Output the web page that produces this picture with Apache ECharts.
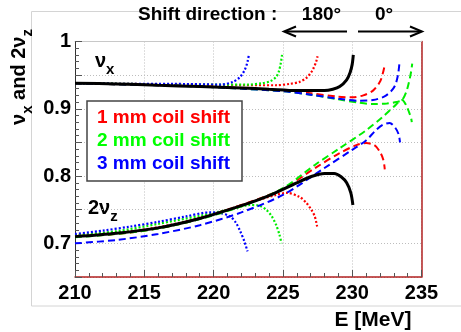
<!DOCTYPE html>
<html>
<head>
<meta charset="utf-8">
<script src="https://cdn.jsdelivr.net/npm/echarts@6/dist/echarts.min.js"></script>
<style>
  html, body { margin: 0; padding: 0; background: #fff; }
  #chart { width: 461px; height: 332px; }
</style>
</head>
<body>
<div id="chart"></div>
<script>
// Betatron tunes vs. energy for coil shifts of 1, 2, 3 mm (180° = dotted, 0° = dashed)
const energyTicks = [210, 215, 220, 225, 230, 235];
const tuneTicks = [0.7, 0.8, 0.9, 1];

// no coil shift
const noShiftNux = [[210,0.938],[213,0.937],[216,0.935],[219,0.933],[222,0.931],[224,0.929],[226,0.927],[228,0.927],[228.6,0.929],[229.1,0.933],[229.6,0.943],[229.85,0.954],[230.0,0.966],[230.08,0.98]];
const noShiftNuz = [[210,0.710],[213,0.715],[216,0.723],[219,0.737],[222,0.756],[224,0.771],[226,0.790],[227,0.799],[228,0.804],[228.7,0.804],[229.2,0.799],[229.6,0.790],[229.9,0.775],[230.05,0.757]];

// 1 mm shift
const shift1Dir180Nux = [[210,0.938],[214,0.937],[218,0.936],[222,0.935],[224.5,0.935],[225.5,0.937],[226.2,0.940],[226.7,0.946],[227.0,0.953],[227.2,0.960],[227.4,0.970],[227.5,0.978]];
const shift1Dir180Nuz = [[210,0.712],[214,0.718],[217,0.728],[220,0.744],[223,0.763],[224.5,0.772],[225.3,0.775],[226.2,0.769],[226.7,0.760],[227.05,0.750],[227.3,0.740],[227.47,0.725]];
const shift1Dir0Nux = [[210,0.938],[214,0.936],[218,0.934],[222,0.931],[225,0.927],[227,0.923],[229,0.918],[230,0.917],[230.8,0.920],[231.5,0.927],[232.0,0.940],[232.2,0.952],[232.35,0.965]];
const shift1Dir0Nuz = [[210,0.710],[214,0.716],[218,0.731],[222,0.757],[225,0.781],[227.4,0.813],[229,0.833],[230.3,0.846],[231.0,0.849],[231.6,0.846],[232.0,0.836],[232.25,0.824],[232.35,0.810]];

// 2 mm shift
const shift2Dir180Nux = [[210,0.938],[214,0.937],[218,0.936],[222.5,0.936],[223.5,0.938],[224.1,0.941],[224.5,0.947],[224.7,0.955],[224.85,0.968],[224.95,0.982]];
const shift2Dir180Nuz = [[210,0.712],[213,0.718],[216,0.729],[219,0.741],[221.5,0.752],[222.6,0.757],[223.3,0.756],[223.8,0.750],[224.2,0.740],[224.5,0.728],[224.75,0.713],[224.9,0.700]];
const shift2Dir0Nux = [[210,0.938],[214,0.936],[218,0.934],[222,0.930],[225,0.926],[227,0.921],[229,0.914],[230.5,0.909],[231.5,0.907],[232.5,0.908],[233.2,0.910],[233.6,0.913],[233.9,0.925],[234.1,0.940],[234.25,0.955],[234.33,0.967]];
const shift2Dir0Nuz = [[210,0.709],[213,0.714],[216,0.722],[219,0.736],[222,0.755],[225,0.782],[227.4,0.818],[229,0.840],[231,0.868],[232.2,0.888],[233.0,0.903],[233.6,0.913],[233.9,0.905],[234.1,0.895],[234.25,0.886],[234.3,0.880]];

// 3 mm shift
const shift3Dir180Nux = [[210,0.938],[214,0.937],[217,0.937],[220.5,0.936],[221.4,0.940],[221.9,0.947],[222.25,0.958],[222.45,0.970],[222.55,0.981]];
const shift3Dir180Nuz = [[210,0.714],[212,0.719],[214,0.725],[216,0.732],[218,0.740],[219.7,0.746],[220.5,0.745],[221.2,0.740],[221.6,0.731],[221.9,0.719],[222.2,0.704],[222.45,0.688]];
const shift3Dir0Nux = [[210,0.938],[214,0.936],[218,0.934],[222,0.930],[225,0.926],[227,0.921],[229,0.915],[230.5,0.912],[231.5,0.913],[232.3,0.918],[232.8,0.926],[233.1,0.935],[233.3,0.950],[233.4,0.966]];
const shift3Dir0Nuz = [[210,0.700],[213,0.705],[216,0.714],[219,0.727],[222,0.746],[225,0.772],[228,0.812],[230,0.839],[231,0.853],[231.7,0.868],[232.2,0.876],[232.7,0.879],[233.1,0.872],[233.35,0.862],[233.45,0.850]];

const legendLabels = ['1 mm coil shift', '2 mm coil shift', '3 mm coil shift'];
const shiftColors = ['#ff0000', '#00ee00', '#0000ff'];

const FONT = 'Liberation Sans';
const DOTTED = [2, 2];
const DASHED = [7, 4];

function curve(data, color, type, width) {
  return {
    type: 'line',
    data: data,
    showSymbol: false,
    smooth: 0.3,
    silent: true,
    lineStyle: { color: color, width: width, type: type }
  };
}

const series = [
  curve(shift1Dir180Nux, shiftColors[0], DOTTED, 2.2),
  curve(shift1Dir180Nuz, shiftColors[0], DOTTED, 2.2),
  curve(shift2Dir180Nux, shiftColors[1], DOTTED, 2.2),
  curve(shift2Dir180Nuz, shiftColors[1], DOTTED, 2.2),
  curve(shift3Dir180Nux, shiftColors[2], DOTTED, 2.2),
  curve(shift3Dir180Nuz, shiftColors[2], DOTTED, 2.2),
  curve(shift1Dir0Nux, shiftColors[0], DASHED, 2),
  curve(shift1Dir0Nuz, shiftColors[0], DASHED, 2),
  curve(shift2Dir0Nux, shiftColors[1], DASHED, 2),
  curve(shift2Dir0Nuz, shiftColors[1], DASHED, 2),
  curve(shift3Dir0Nux, shiftColors[2], DASHED, 2),
  curve(shift3Dir0Nuz, shiftColors[2], DASHED, 2),
  curve(noShiftNux, '#000', 'solid', 3),
  curve(noShiftNuz, '#000', 'solid', 3)
];

const tickFont = { fontFamily: FONT, fontWeight: 'bold', fontSize: 20, color: '#000' };
const richTune = {
  g: { fontFamily: FONT, fontWeight: 'bold', fontSize: 20, color: '#000', padding: [0, 0, 6, 0] },
  s: { fontFamily: FONT, fontWeight: 'bold', fontSize: 15, color: '#000', verticalAlign: 'bottom' }
};

const chart = echarts.init(document.getElementById('chart'), null, { renderer: 'canvas' });
chart.setOption({
  animation: false,
  backgroundColor: '#fff',
  grid: { left: 75, right: 39.5, top: 41.5, bottom: 55 },
  xAxis: [{
    type: 'value', min: energyTicks[0], max: energyTicks[energyTicks.length - 1], interval: 5,
    axisLine: { lineStyle: { color: '#b22222', width: 1.5 } },
    axisTick: { inside: true, length: 7, lineStyle: { color: '#555' } },
    minorTick: { show: true, splitNumber: 5, length: 4, lineStyle: { color: '#555' } },
    splitLine: { show: true, lineStyle: { color: '#bdbdbd', type: [1, 2] } },
    axisLabel: Object.assign({ margin: 6 }, tickFont),
    name: 'E [MeV]', nameLocation: 'end', nameGap: -10,
    nameTextStyle: { fontFamily: FONT, fontWeight: 'bold', fontSize: 21, color: '#000', align: 'right', verticalAlign: 'top', padding: [33, 0, 0, 0] }
  }, {
    type: 'value', position: 'top', min: 210, max: 235,
    axisLine: { show: true, lineStyle: { color: '#c8c8c8', width: 1 } },
    axisTick: { show: false }, axisLabel: { show: false }, splitLine: { show: false }
  }],
  yAxis: [{
    type: 'value', min: 0.65, max: 1.0, splitNumber: 5,
    axisLine: { show: true, lineStyle: { color: '#333', width: 1 } },
    axisTick: { show: true, inside: true, length: 7, lineStyle: { color: '#555' } },
    minorTick: { show: true, splitNumber: 5, length: 4, lineStyle: { color: '#555' } },
    splitLine: { show: true, lineStyle: { color: '#bdbdbd', type: [1, 2] } },
    axisLabel: Object.assign({ margin: 4, showMinLabel: false,
      formatter: v => (tuneTicks.some(t => Math.abs(t - v) < 1e-6) ? String(+v.toFixed(2)) : '') }, tickFont)
  }, {
    type: 'value', position: 'right', min: 0.65, max: 1.0,
    axisLine: { show: true, lineStyle: { color: '#b22222', width: 1.5 } },
    axisTick: { show: false }, axisLabel: { show: false }, splitLine: { show: false }
  }],
  series: series,
  graphic: [
    { type: 'rect', z: -10, silent: true, shape: { x: 31.5, y: 11.5, width: 460, height: 294.5 },
      style: { fill: 'none', stroke: '#d4d4d4', lineWidth: 1 } },
    { type: 'text', x: 138, y: 15, silent: true,
      style: { text: 'Shift direction :', font: 'bold 19px ' + FONT, fill: '#000', textVerticalAlign: 'middle' } },
    { type: 'text', x: 321.5, y: 15, silent: true,
      style: { text: '180°', font: 'bold 19px ' + FONT, fill: '#000', textAlign: 'center', textVerticalAlign: 'middle' } },
    { type: 'text', x: 384, y: 15, silent: true,
      style: { text: '0°', font: 'bold 19px ' + FONT, fill: '#000', textAlign: 'center', textVerticalAlign: 'middle' } },
    // direction arrows
    { type: 'line', silent: true, shape: { x1: 347, y1: 31.5, x2: 285, y2: 31.5 }, style: { stroke: '#000', lineWidth: 2 } },
    { type: 'polyline', silent: true, shape: { points: [[296, 26.5], [284, 31.5], [296, 36.5]] }, style: { stroke: '#000', lineWidth: 2, fill: 'none' } },
    { type: 'line', silent: true, shape: { x1: 358, y1: 31.5, x2: 421, y2: 31.5 }, style: { stroke: '#000', lineWidth: 2 } },
    { type: 'polyline', silent: true, shape: { points: [[410, 26.5], [422, 31.5], [410, 36.5]] }, style: { stroke: '#000', lineWidth: 2, fill: 'none' } },
    // vertical axis title
    { type: 'text', x: 22, y: 77, rotation: Math.PI / 2, silent: true,
      style: { text: '{g|ν}{s|x}{g| and 2ν}{s|z}', rich: richTune, textAlign: 'center', textVerticalAlign: 'middle' } },
    // branch labels
    { type: 'text', x: 95, y: 51, silent: true,
      style: { text: '{g|ν}{s|x}', rich: richTune, textVerticalAlign: 'top' } },
    { type: 'text', x: 88, y: 198, silent: true,
      style: { text: '{g|2ν}{s|z}', rich: richTune, textVerticalAlign: 'top' } },
    // shift legend
    { type: 'rect', z: 50, silent: true, shape: { x: 87, y: 101, width: 155, height: 80 },
      style: { fill: '#fff', stroke: '#444', lineWidth: 1.5 } },
    { type: 'text', z: 51, x: 97, y: 118, silent: true,
      style: { text: legendLabels[0], font: 'bold 19px ' + FONT, fill: shiftColors[0], textVerticalAlign: 'middle' } },
    { type: 'text', z: 51, x: 97, y: 141, silent: true,
      style: { text: legendLabels[1], font: 'bold 19px ' + FONT, fill: '#00ff00', textVerticalAlign: 'middle' } },
    { type: 'text', z: 51, x: 97, y: 164, silent: true,
      style: { text: legendLabels[2], font: 'bold 19px ' + FONT, fill: shiftColors[2], textVerticalAlign: 'middle' } }
  ]
});
</script>
</body>
</html>
